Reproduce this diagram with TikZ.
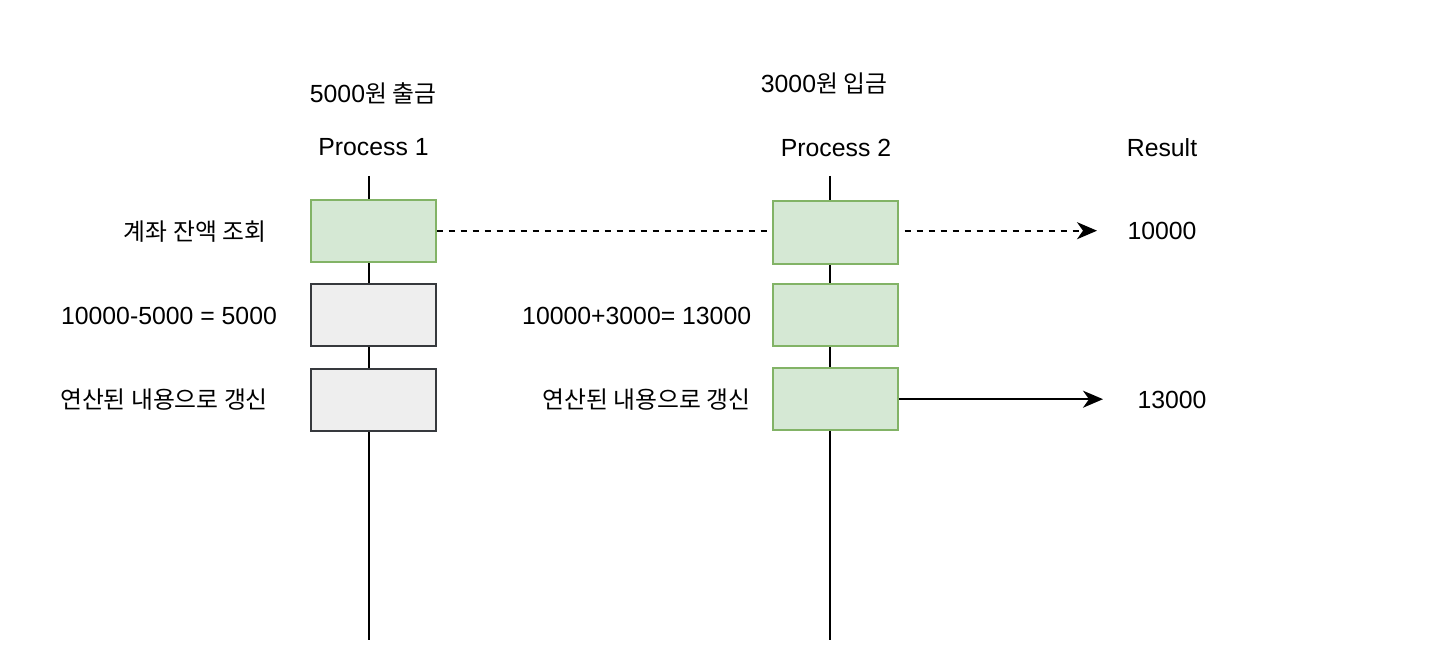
\documentclass[tikz,border=0pt]{standalone}
\usepackage{fontspec}
\setmainfont{Liberation Sans}
\newfontfamily\kr[Scale=0.96]{Noto Sans CJK KR}
\usetikzlibrary{arrows.meta,backgrounds}
\definecolor{gfill}{HTML}{D5E8D4}
\definecolor{gdraw}{HTML}{82B366}
\definecolor{kfill}{HTML}{EEEEEE}
\definecolor{kdraw}{HTML}{36393D}
\tikzset{
  gbox/.style={draw=gdraw,fill=gfill,line width=2pt,minimum width=125pt,minimum height=62pt,inner sep=0pt},
  kbox/.style={gbox,draw=kdraw,fill=kfill},
  lbl/.style={font=\fontsize{24.8}{29}\selectfont,inner sep=0pt,anchor=base},
  life/.style={line width=2pt,black},
  arr/.style={line width=2pt,-{Stealth[length=20pt,width=17pt,inset=6pt]}},
}
\begin{document}
\begin{tikzpicture}[x=1pt,y=-1pt]
\useasboundingbox (0,0) rectangle (1452,666);
% boxes
\node[gbox] (b1a) at (373,230.7) {};
\node[kbox] (b1b) at (373,315) {};
\node[kbox] (b1c) at (373,399.5) {};
\node[gbox] (b2a) at (835.3,232.5) {};
\node[gbox] (b2b) at (835.3,315) {};
\node[gbox] (b2c) at (835.3,399.2) {};
% free ends
\coordinate (p1top) at (369,176);
\coordinate (p1bot) at (369,640);
\coordinate (p2top) at (830,176);
\coordinate (p2bot) at (830,640);
\coordinate (r1) at (1097,230.7);
\coordinate (r2) at (1103,399.2);
\begin{pgfonlayer}{background}
  \draw[life] (p1top) -- (p1bot);
  \draw[life] (p2top) -- (p2bot);
  \draw[arr,dash pattern=on 6pt off 6pt] (b1a.east) -- (r1);
\end{pgfonlayer}
\draw[arr] (b2c.east) -- (r2);
% labels
\node[lbl] (t1) at (373,102.5) {5000{\kr 원 출금}};
\node[lbl] (t2) at (824,92.5) {3000{\kr 원 입금}};
\node[lbl] (h1) at (373.5,156) {Process 1};
\node[lbl] (h2) at (836,156.5) {Process 2};
\node[lbl] (h3) at (1162,156.5) {Result};
\node[lbl] (v1) at (1162,240) {10000};
\node[lbl] (v2) at (1172,408) {13000};
\node[lbl] (l1) at (195,240.5) {\kr 계좌 잔액 조회};
\node[lbl] (l2) at (169,324) {10000-5000 = 5000};
\node[lbl] (l3) at (164,408) {\kr 연산된 내용으로 갱신};
\node[lbl] (m2) at (636.7,324) {10000+3000= 13000};
\node[lbl] (m3) at (646.4,408) {\kr 연산된 내용으로 갱신};
\end{tikzpicture}
\end{document}
